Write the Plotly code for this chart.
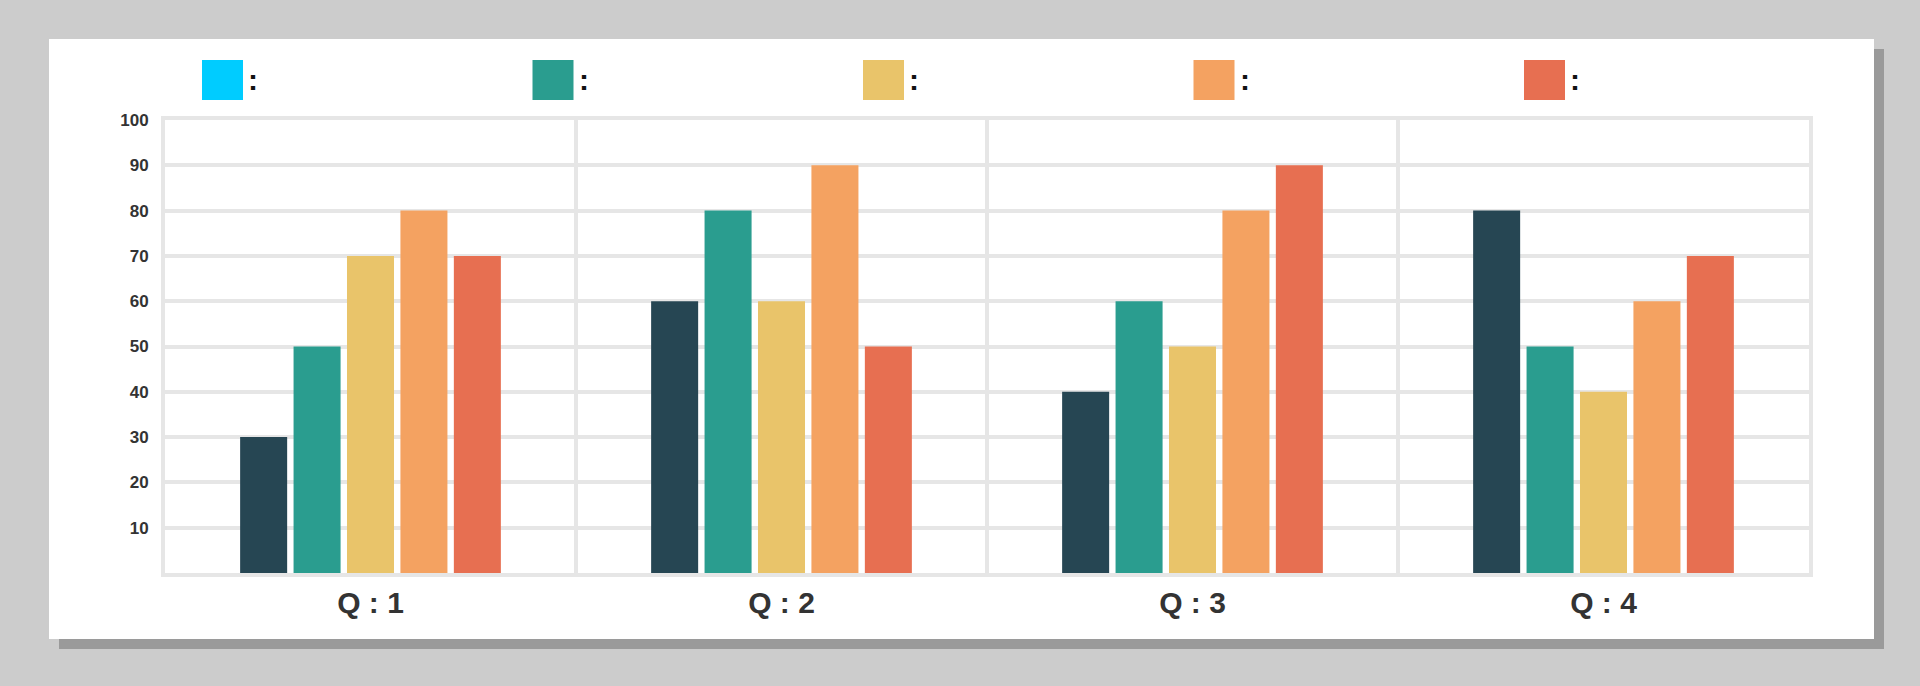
import plotly.graph_objects as go

# --- Data ---
QUARTERS = ["Q : 1", "Q : 2", "Q : 3", "Q : 4"]
SERIES_NAMES = ["Series 1", "Series 2", "Series 3", "Series 4", "Series 5"]
SERIES_VALUES = [
    [30, 60, 40, 80],
    [50, 80, 60, 50],
    [70, 60, 50, 40],
    [80, 90, 80, 60],
    [70, 50, 90, 70],
]
BAR_COLORS = ["#264653", "#2a9d8f", "#e9c46a", "#f4a261", "#e76f51"]
LEGEND_COLORS = ["#00ccff", "#2a9d8f", "#e9c46a", "#f4a261", "#e76f51"]
Y_TICKS = [10, 20, 30, 40, 50, 60, 70, 80, 90, 100]

# --- Page geometry (pixels) ---
W, H = 1920, 686
PLOT_L, PLOT_R, PLOT_T, PLOT_B = 165, 1809, 120, 573
GRID = "#e6e6e6"


def px_x(x):
    return (x - PLOT_L) / (PLOT_R - PLOT_L)


def px_y(y):
    return (PLOT_B - y) / (PLOT_B - PLOT_T)


fig = go.Figure()

for name, vals, color in zip(SERIES_NAMES, SERIES_VALUES, BAR_COLORS):
    fig.add_trace(go.Bar(
        x=QUARTERS, y=vals, name=name,
        marker=dict(color=color, line_width=0),
        showlegend=False,
    ))

shapes = [
    # card shadow
    dict(type="rect", xref="paper", yref="paper", layer="below",
         x0=px_x(59), x1=px_x(1884), y0=px_y(649), y1=px_y(49),
         fillcolor="#9a9a9a", line_width=0),
    # white card
    dict(type="rect", xref="paper", yref="paper", layer="below",
         x0=px_x(49), x1=px_x(1874), y0=px_y(639), y1=px_y(39),
         fillcolor="#ffffff", line_width=0),
]
annotations = []

# hand-built legend: big swatch followed by a colon
for i, color in enumerate(LEGEND_COLORS):
    left = 202 + i * 330.5
    shapes.append(dict(type="rect", xref="paper", yref="paper",
                       x0=px_x(left), x1=px_x(left + 41),
                       y0=px_y(100), y1=px_y(60),
                       fillcolor=color, line_width=0))
    annotations.append(dict(xref="paper", yref="paper",
                            x=px_x(left + 44), y=px_y(79),
                            xanchor="left", yanchor="middle",
                            text="<b>:</b>", showarrow=False,
                            font=dict(family="Liberation Sans", size=30, color="#111111")))

fig.update_layout(
    width=W, height=H,
    margin=dict(l=PLOT_L, r=W - PLOT_R, t=PLOT_T, b=H - PLOT_B, pad=0),
    paper_bgcolor="#cccccc",
    plot_bgcolor="#ffffff",
    barmode="group",
    bargap=0.35,
    bargroupgap=0.12,
    shapes=shapes,
    annotations=annotations,
    xaxis=dict(
        type="category",
        tickson="boundaries",
        showgrid=True, gridcolor=GRID, gridwidth=4,
        showline=True, linecolor=GRID, linewidth=4, mirror=True,
        ticks="", ticklabelstandoff=0,
        tickfont=dict(family="Liberation Sans", size=30, color="#333333", weight="bold"),
    ),
    yaxis=dict(
        range=[0, 100],
        tickvals=Y_TICKS,
        showgrid=True, gridcolor=GRID, gridwidth=4,
        showline=True, linecolor=GRID, linewidth=4, mirror=True,
        zeroline=False,
        ticks="", ticklabelstandoff=9,
        tickfont=dict(family="Liberation Sans", size=17, color="#333333", weight="bold"),
    ),
)

# drop the browser's default body margin so the figure sits at the page corner
fig.write_html("out.html", config={"displayModeBar": False},
               post_script="document.body.style.margin='0';")
